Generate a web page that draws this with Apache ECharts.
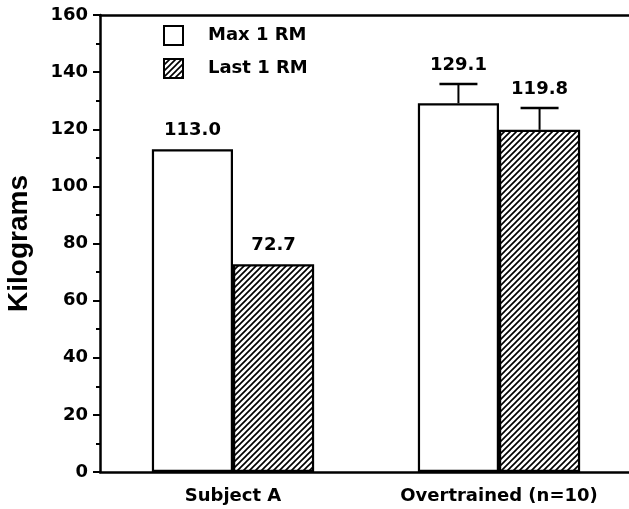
<!DOCTYPE html>
<html>
<head>
<meta charset="utf-8">
<script src="https://cdn.jsdelivr.net/npm/echarts@6/dist/echarts.min.js"></script>
<style>html,body{margin:0;padding:0;background:#fff}#c{width:629px;height:509px}</style>
</head>
<body>
<div id="c"></div>
<script>
// ---- data ----
var categories = ['Subject A', 'Overtrained (n=10)'];
var seriesNames = ['Max 1 RM', 'Last 1 RM'];
var maxValues = [113.0, 129.1];
var lastValues = [72.7, 119.8];
var maxErrors = [0, 6.7];
var lastErrors = [0, 7.6];
var yTicks = [0, 20, 40, 60, 80, 100, 120, 140, 160];

// ---- hatch pattern ----
function makeHatch() {
  var s = 6;
  var c = document.createElement('canvas');
  c.width = s; c.height = s;
  var g = c.getContext('2d');
  g.fillStyle = '#fff'; g.fillRect(0, 0, s, s);
  g.strokeStyle = '#000'; g.lineWidth = 1.65;
  g.beginPath();
  g.moveTo(-1, s + 1); g.lineTo(s + 1, -1);
  g.moveTo(-2, 2); g.lineTo(2, -2);
  g.moveTo(s - 2, s + 2); g.lineTo(s + 2, s - 2);
  g.stroke();
  return c;
}
var hatch = { image: makeHatch(), repeat: 'repeat' };

var CAT_GAP = 0.39;
var FONT = '"DejaVu Sans", Verdana, sans-serif';

function errRender(seriesIdx) {
  return function (params, api) {
    var cat = api.value(0), val = api.value(1), err = api.value(2);
    var base = api.coord([cat, val]);
    var band = api.size([1, 0])[0];
    var group = band * (1 - CAT_GAP);
    var bw = group / 2;
    var x = base[0] - group / 2 + bw * (seriesIdx + 0.5);
    var children = [];
    var topY = base[1];
    if (err > 0) {
      var t = api.coord([cat, val + err])[1];
      children.push({ type: 'line', shape: { x1: x, y1: base[1], x2: x, y2: t }, style: { stroke: '#000', lineWidth: 2 } });
      children.push({ type: 'line', shape: { x1: x - 19, y1: t, x2: x + 19, y2: t }, style: { stroke: '#000', lineWidth: 2.5 } });
      topY = t;
    }
    children.push({ type: 'text', x: x, y: topY - 10, style: {
      text: val.toFixed(1), fill: '#000', font: 'bold 18px ' + FONT, align: 'center', verticalAlign: 'bottom' } });
    return { type: 'group', children: children };
  };
}

var chart = echarts.init(document.getElementById('c'));
chart.setOption({
  animation: false,
  backgroundColor: '#fff',
  grid: { left: 100, right: -3, top: 15, bottom: 37, containLabel: false, outerBoundsMode: 'none' },
  legend: {
    orient: 'vertical', left: 163, top: 25, padding: 0, itemWidth: 19, itemHeight: 19, itemGap: 12,
    icon: 'rect',
    data: seriesNames,
    textStyle: { color: '#000', fontFamily: FONT, fontWeight: 'bold', fontSize: 18, padding: [0, 0, 0, 20] }
  },
  xAxis: [{
    type: 'category', data: categories,
    axisLine: { lineStyle: { color: '#000', width: 2.5 } },
    axisTick: { show: false },
    axisLabel: { color: '#000', fontFamily: FONT, fontWeight: 'bold', fontSize: 18, margin: 15 }
  }, {
    type: 'category', data: categories, position: 'top',
    axisLine: { lineStyle: { color: '#000', width: 2.5 } },
    axisTick: { show: false }, axisLabel: { show: false }
  }],
  yAxis: {
    type: 'value', min: yTicks[0], max: yTicks[yTicks.length - 1], interval: 20,
    name: 'Kilograms', nameLocation: 'middle', nameGap: 67, nameRotate: 90,
    nameTextStyle: { color: '#000', fontFamily: '"Liberation Sans", Arial, sans-serif', fontWeight: 'bold', fontSize: 28 },
    axisLine: { show: true, lineStyle: { color: '#000', width: 2.5 } },
    axisTick: { show: true, length: 7, lineStyle: { color: '#000', width: 2 } },
    minorTick: { show: true, splitNumber: 2, length: 4, lineStyle: { color: '#000', width: 2 } },
    splitLine: { show: false },
    axisLabel: { color: '#000', fontFamily: FONT, fontWeight: 'bold', fontSize: 18, margin: 12 }
  },
  series: [{
    name: seriesNames[0], type: 'bar', data: maxValues,
    barGap: '0%', barCategoryGap: (CAT_GAP * 100) + '%',
    itemStyle: { color: '#fff', borderColor: '#000', borderWidth: 2.2 }
  }, {
    name: seriesNames[1], type: 'bar', data: lastValues,
    barGap: '0%', barCategoryGap: (CAT_GAP * 100) + '%',
    itemStyle: { color: hatch, borderColor: '#000', borderWidth: 2.2 }
  }, {
    type: 'custom', renderItem: errRender(0), z: 5,
    data: categories.map(function (c, i) { return [i, maxValues[i], maxErrors[i]]; })
  }, {
    type: 'custom', renderItem: errRender(1), z: 5,
    data: categories.map(function (c, i) { return [i, lastValues[i], lastErrors[i]]; })
  }]
});
</script>
</body>
</html>
